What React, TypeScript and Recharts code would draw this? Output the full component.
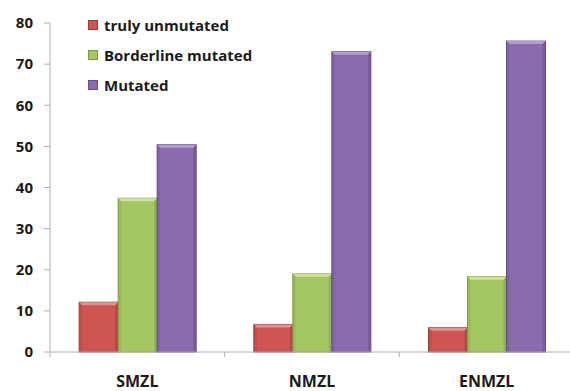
import { BarChart, Bar, XAxis, YAxis, Legend } from "recharts";

const categories = ["SMZL", "NMZL", "ENMZL"];
const trulyUnmutated = [12.1, 6.7, 5.9];
const borderlineMutated = [37.4, 19.0, 18.3];
const mutated = [50.4, 73.0, 75.6];
const yTicks = [0, 10, 20, 30, 40, 50, 60, 70, 80];

const series = [
  { key: "truly", name: "truly unmutated", color: "#cd5653", dark: "#9c3b39", light: "#e8908d" },
  { key: "border", name: "Borderline mutated", color: "#a4c663", dark: "#7c9a43", light: "#cfe596" },
  { key: "mut", name: "Mutated", color: "#8a6cae", dark: "#654d86", light: "#b49dd3" },
];

const data = categories.map((c, i) => ({
  name: c,
  truly: trulyUnmutated[i],
  border: borderlineMutated[i],
  mut: mutated[i],
}));

const FONT = "'Open Sans', sans-serif";

function BevelBar(props: any) {
  const { x, y, width, height, fill, dark, light } = props;
  if (!height || height <= 0) return null;
  const b = 3;
  return (
    <g>
      <rect x={x} y={y} width={width} height={height} fill={fill} stroke={dark} strokeWidth={1} />
      <polygon points={`${x},${y} ${x + width},${y} ${x + width - b},${y + b} ${x + b},${y + b}`} fill={light} />
      <polygon points={`${x},${y} ${x + b},${y + b} ${x + b},${y + height} ${x},${y + height}`} fill={dark} opacity={0.25} />
      <polygon points={`${x + width},${y} ${x + width - b},${y + b} ${x + width - b},${y + height} ${x + width},${y + height}`} fill={dark} opacity={0.5} />
    </g>
  );
}

function CatTick(props: any) {
  const { x, y, payload, width, visibleTicksCount } = props;
  const half = width / (2 * (visibleTicksCount || 3));
  return (
    <g>
      <line x1={x - half} y1={y - 8} x2={x - half} y2={y - 3} stroke="#b0b0b0" />
      <text x={x} y={y + 27} textAnchor="middle" fontFamily={FONT} fontWeight={700} fontSize={16} fill="#1a1a1a">
        {payload.value}
      </text>
    </g>
  );
}

function LegendBox() {
  return (
    <div style={{ fontFamily: FONT, fontWeight: 700, fontSize: 15, color: "#1a1a1a", lineHeight: "30px" }}>
      {series.map((s) => (
        <div key={s.key} style={{ display: "flex", alignItems: "center", height: 30 }}>
          <span style={{ width: 10, height: 10, background: s.color, border: `1px solid ${s.dark}`, marginRight: 6, boxSizing: "border-box" }} />
          <span>{s.name}</span>
        </div>
      ))}
    </div>
  );
}

export default function App() {
  return (
    <div style={{ position: "absolute", left: 0, top: 0, width: 570, height: 391, overflow: "hidden", background: "#fff" }}>
      <BarChart width={574} height={391} data={data} margin={{ top: 23, right: 0, bottom: 0, left: 0 }} barGap={0} barCategoryGap="16.7%">
        <XAxis dataKey="name" height={39} tickLine={false} axisLine={{ stroke: "#b0b0b0" }} tick={<CatTick />} interval={0} />
        <YAxis
          domain={[0, 80]}
          ticks={yTicks}
          width={50}
          tickSize={6}
          tickMargin={11}
          axisLine={{ stroke: "#b0b0b0" }}
          tickLine={{ stroke: "#b0b0b0" }}
          tick={{ fontFamily: FONT, fontWeight: 700, fontSize: 15, fill: "#1a1a1a" }}
        />
        <Legend
          layout="vertical"
          align="center"
          verticalAlign="middle"
          wrapperStyle={{ left: 88, top: 10, width: "auto", height: "auto" }}
          content={<LegendBox />}
        />
        {series.map((s) => (
          <Bar
            key={s.key}
            dataKey={s.key}
            name={s.name}
            fill={s.color}
            isAnimationActive={false}
            shape={(p: any) => <BevelBar {...p} fill={s.color} dark={s.dark} light={s.light} />}
          />
        ))}
      </BarChart>
    </div>
  );
}
